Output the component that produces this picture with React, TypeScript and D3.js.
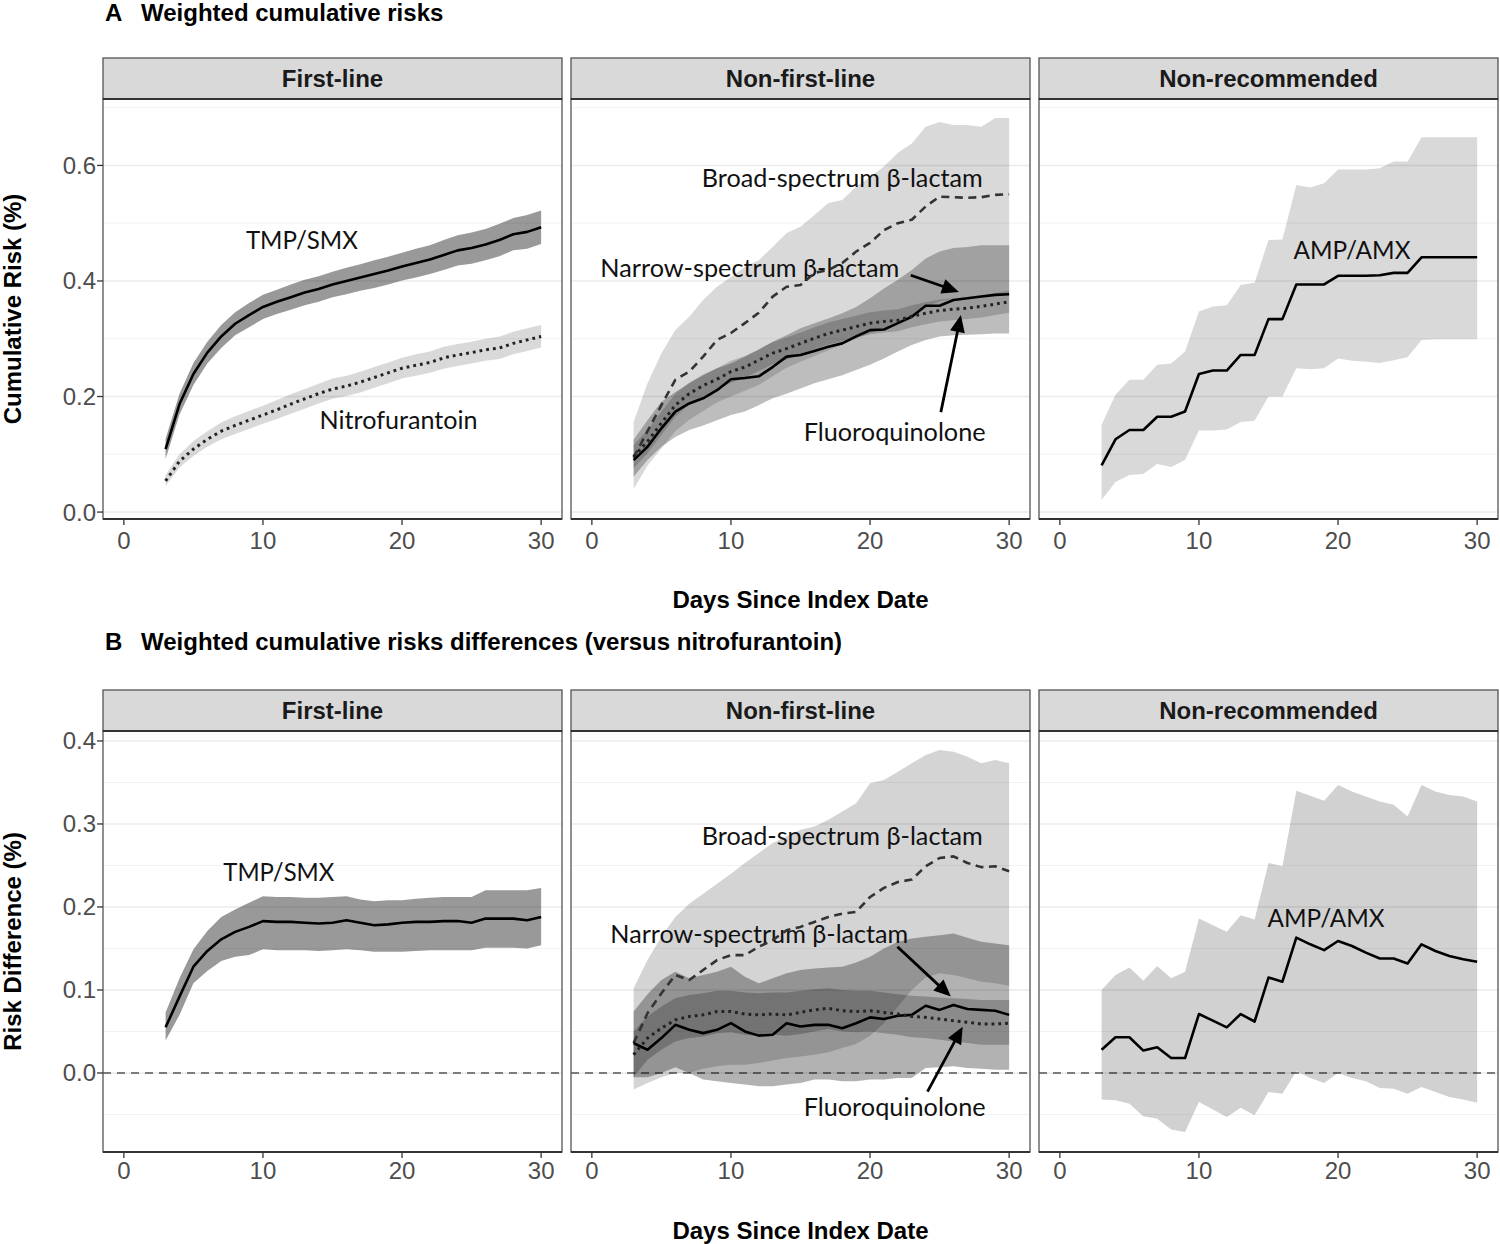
import React from 'react';
import * as d3 from 'd3';

// ---------- data ----------
const DAYS = [3,4,5,6,7,8,9,10,11,12,13,14,15,16,17,18,19,20,21,22,23,24,25,26,27,28,29,30];

const FACETS = ['First-line', 'Non-first-line', 'Non-recommended'];
const X_TICKS = [0, 10, 20, 30];
const A_Y_TICKS = [0, 0.2, 0.4, 0.6];
const A_Y_MINOR = [0.1, 0.3, 0.5, 0.7];
const B_Y_TICKS = [0, 0.1, 0.2, 0.3, 0.4];
const B_Y_MINOR = [-0.05, 0.05, 0.15, 0.25, 0.35];

// Panel A – cumulative risks
const A_TMP = [0.109,0.187,0.239,0.276,0.304,0.326,0.341,0.355,0.364,0.372,0.380,0.386,0.394,0.400,0.406,0.412,0.418,0.425,0.431,0.437,0.445,0.453,0.457,0.463,0.471,0.481,0.485,0.493];
const A_TMP_HI = [0.127,0.205,0.258,0.295,0.324,0.346,0.362,0.376,0.385,0.394,0.402,0.408,0.416,0.423,0.429,0.436,0.442,0.449,0.456,0.462,0.471,0.479,0.484,0.490,0.499,0.509,0.514,0.522];
const A_TMP_LO = [0.092,0.169,0.220,0.257,0.284,0.306,0.320,0.334,0.343,0.350,0.358,0.364,0.372,0.377,0.383,0.388,0.394,0.401,0.406,0.412,0.419,0.427,0.430,0.436,0.443,0.453,0.456,0.464];

const A_NITRO = [0.054,0.088,0.109,0.126,0.140,0.150,0.159,0.168,0.177,0.187,0.196,0.205,0.213,0.218,0.225,0.233,0.241,0.249,0.254,0.259,0.267,0.272,0.276,0.281,0.284,0.292,0.298,0.304];
const A_NITRO_HI = [0.064,0.100,0.123,0.140,0.155,0.166,0.175,0.184,0.194,0.204,0.213,0.222,0.231,0.236,0.243,0.251,0.259,0.267,0.273,0.278,0.286,0.291,0.295,0.300,0.304,0.312,0.318,0.324];
const A_NITRO_LO = [0.045,0.077,0.097,0.113,0.126,0.135,0.144,0.153,0.161,0.170,0.179,0.188,0.196,0.201,0.207,0.215,0.223,0.231,0.236,0.241,0.248,0.253,0.257,0.262,0.265,0.273,0.279,0.285];

const A_BROAD = [0.094,0.140,0.185,0.229,0.243,0.269,0.298,0.310,0.327,0.345,0.373,0.390,0.393,0.414,0.419,0.431,0.451,0.466,0.488,0.500,0.506,0.529,0.546,0.545,0.544,0.545,0.549,0.550];
const A_BROAD_HI = [0.156,0.223,0.275,0.315,0.338,0.367,0.390,0.407,0.424,0.436,0.459,0.483,0.494,0.514,0.535,0.540,0.563,0.580,0.598,0.622,0.638,0.667,0.675,0.670,0.670,0.667,0.682,0.682];
const A_BROAD_LO = [0.040,0.080,0.110,0.140,0.160,0.175,0.190,0.200,0.210,0.220,0.235,0.250,0.260,0.270,0.280,0.290,0.300,0.310,0.320,0.330,0.340,0.355,0.365,0.370,0.372,0.374,0.376,0.378];

const A_NARROW = [0.090,0.113,0.145,0.174,0.188,0.197,0.211,0.230,0.232,0.235,0.251,0.269,0.272,0.279,0.286,0.292,0.304,0.315,0.316,0.327,0.338,0.357,0.357,0.367,0.370,0.373,0.376,0.377];
const A_NARROW_HI = [0.125,0.159,0.191,0.208,0.223,0.237,0.249,0.257,0.269,0.281,0.295,0.306,0.318,0.327,0.335,0.344,0.355,0.370,0.387,0.402,0.419,0.439,0.451,0.457,0.459,0.462,0.462,0.462];
const A_NARROW_LO = [0.061,0.090,0.113,0.130,0.142,0.150,0.159,0.168,0.174,0.185,0.197,0.205,0.214,0.223,0.230,0.237,0.246,0.255,0.266,0.278,0.289,0.298,0.304,0.306,0.307,0.308,0.309,0.309];

const A_FLUORO = [0.096,0.122,0.154,0.185,0.205,0.219,0.230,0.243,0.251,0.263,0.275,0.283,0.292,0.301,0.309,0.315,0.321,0.327,0.330,0.332,0.339,0.344,0.349,0.351,0.353,0.356,0.360,0.364];
const A_FLUORO_HI = [0.116,0.142,0.174,0.205,0.224,0.238,0.249,0.262,0.270,0.282,0.294,0.302,0.311,0.320,0.328,0.334,0.340,0.346,0.349,0.351,0.358,0.363,0.368,0.370,0.372,0.375,0.379,0.383];
const A_FLUORO_LO = [0.076,0.102,0.134,0.165,0.186,0.200,0.211,0.224,0.232,0.244,0.256,0.264,0.273,0.282,0.290,0.296,0.302,0.308,0.311,0.313,0.320,0.325,0.330,0.332,0.334,0.337,0.341,0.345];

const A_AMP = [0.081,0.126,0.142,0.142,0.165,0.165,0.174,0.239,0.245,0.245,0.272,0.272,0.334,0.334,0.394,0.394,0.394,0.409,0.409,0.409,0.410,0.414,0.414,0.441,0.441,0.441,0.441,0.441];
const A_AMP_HI = [0.151,0.203,0.229,0.229,0.255,0.257,0.278,0.347,0.356,0.358,0.393,0.397,0.471,0.472,0.566,0.562,0.569,0.593,0.593,0.593,0.595,0.607,0.607,0.649,0.649,0.649,0.649,0.649];
const A_AMP_LO = [0.021,0.052,0.064,0.066,0.083,0.078,0.090,0.141,0.141,0.143,0.156,0.158,0.200,0.200,0.249,0.247,0.249,0.266,0.262,0.260,0.258,0.263,0.268,0.298,0.299,0.299,0.299,0.299];

// Panel B – risk differences vs nitrofurantoin
const B_TMP = [0.055,0.092,0.128,0.147,0.161,0.170,0.176,0.183,0.182,0.182,0.181,0.180,0.181,0.184,0.181,0.178,0.179,0.181,0.182,0.182,0.183,0.183,0.181,0.186,0.186,0.186,0.184,0.188];
const B_TMP_HI = [0.073,0.114,0.149,0.171,0.188,0.197,0.205,0.213,0.212,0.212,0.211,0.211,0.212,0.213,0.209,0.207,0.208,0.208,0.210,0.211,0.212,0.212,0.212,0.220,0.220,0.220,0.220,0.223];
const B_TMP_LO = [0.039,0.070,0.108,0.123,0.135,0.140,0.142,0.149,0.148,0.148,0.148,0.147,0.148,0.149,0.148,0.146,0.146,0.146,0.147,0.148,0.148,0.148,0.148,0.151,0.151,0.151,0.150,0.154];

const B_BROAD = [0.036,0.072,0.096,0.118,0.112,0.124,0.136,0.142,0.142,0.152,0.160,0.172,0.176,0.182,0.188,0.192,0.194,0.212,0.223,0.230,0.233,0.249,0.259,0.261,0.253,0.248,0.249,0.243];
const B_BROAD_HI = [0.102,0.136,0.164,0.188,0.204,0.216,0.228,0.240,0.253,0.265,0.277,0.285,0.293,0.297,0.305,0.315,0.325,0.349,0.353,0.363,0.373,0.383,0.389,0.387,0.381,0.373,0.377,0.373];
const B_BROAD_LO = [-0.020,-0.012,-0.005,0.000,0.000,0.005,0.008,0.010,0.010,0.012,0.015,0.018,0.020,0.022,0.025,0.030,0.035,0.045,0.060,0.080,0.100,0.115,0.120,0.118,0.114,0.110,0.108,0.105];

const B_NARROW = [0.036,0.028,0.042,0.058,0.052,0.048,0.052,0.060,0.050,0.045,0.046,0.060,0.056,0.058,0.058,0.054,0.060,0.067,0.065,0.069,0.070,0.081,0.076,0.082,0.077,0.076,0.075,0.070];
const B_NARROW_HI = [0.074,0.095,0.112,0.122,0.114,0.118,0.122,0.128,0.116,0.108,0.114,0.120,0.124,0.126,0.127,0.128,0.133,0.140,0.150,0.158,0.162,0.164,0.166,0.168,0.163,0.158,0.156,0.154];
const B_NARROW_LO = [-0.005,-0.005,0.000,0.007,0.000,-0.008,-0.010,-0.012,-0.014,-0.016,-0.016,-0.014,-0.012,-0.008,-0.008,-0.010,-0.010,-0.008,-0.008,-0.006,-0.006,0.006,0.007,0.008,0.006,0.005,0.004,0.004];

const B_FLUORO = [0.022,0.042,0.054,0.064,0.068,0.070,0.074,0.074,0.071,0.070,0.071,0.070,0.073,0.076,0.078,0.075,0.074,0.075,0.073,0.071,0.068,0.067,0.065,0.063,0.061,0.059,0.059,0.060];
const B_FLUORO_HI = [0.050,0.068,0.080,0.090,0.094,0.096,0.099,0.099,0.097,0.096,0.097,0.097,0.099,0.101,0.102,0.100,0.099,0.099,0.097,0.095,0.093,0.092,0.091,0.090,0.089,0.088,0.088,0.088];
const B_FLUORO_LO = [-0.005,0.016,0.028,0.038,0.042,0.044,0.048,0.049,0.046,0.045,0.046,0.045,0.047,0.050,0.053,0.050,0.049,0.050,0.048,0.046,0.043,0.042,0.040,0.038,0.036,0.034,0.034,0.034];

const B_AMP = [0.028,0.043,0.043,0.027,0.031,0.018,0.018,0.071,0.063,0.055,0.071,0.062,0.115,0.110,0.163,0.155,0.148,0.159,0.153,0.145,0.138,0.138,0.132,0.155,0.147,0.141,0.137,0.134];
const B_AMP_HI = [0.100,0.118,0.127,0.111,0.129,0.114,0.122,0.186,0.178,0.170,0.190,0.185,0.253,0.249,0.340,0.334,0.328,0.347,0.339,0.333,0.327,0.323,0.309,0.347,0.339,0.335,0.333,0.327];
const B_AMP_LO = [-0.032,-0.033,-0.037,-0.052,-0.055,-0.068,-0.071,-0.035,-0.044,-0.053,-0.042,-0.051,-0.023,-0.025,0.002,-0.006,-0.012,0.000,-0.006,-0.010,-0.018,-0.019,-0.025,-0.017,-0.023,-0.029,-0.032,-0.036];

// ---------- types / config ----------
type LineStyle = 'solid' | 'dashed' | 'dotted';
type Series = { y: number[]; lo: number[]; hi: number[]; style: LineStyle; alpha: number };
type Label = { text: string; day: number; value: number; width: number };
type Arrow = { d1: number; v1: number; d2: number; v2: number };
type PanelCfg = { series: Series[]; labels: Label[]; arrows: Arrow[] };
type RowCfg = {
  tag: string; title: string; titleBase: number;
  stripTop: number; top: number; bottom: number; domain: [number, number];
  ticks: number[]; minor: number[]; yTitle: string; zero: boolean;
  xLabelBase: number; xTitleBase: number; panels: PanelCfg[];
};

const ROWS: RowCfg[] = [
  {
    tag: 'A', title: 'Weighted cumulative risks', titleBase: 20.5,
    stripTop: 58, top: 99, bottom: 519, domain: [-0.012, 0.715],
    ticks: A_Y_TICKS, minor: A_Y_MINOR, yTitle: 'Cumulative Risk (%)', zero: false,
    xLabelBase: 549, xTitleBase: 607.5,
    panels: [
      {
        series: [
          { y: A_NITRO, lo: A_NITRO_LO, hi: A_NITRO_HI, style: 'dotted', alpha: 0.15 },
          { y: A_TMP, lo: A_TMP_LO, hi: A_TMP_HI, style: 'solid', alpha: 0.4 },
        ],
        labels: [
          { text: 'TMP/SMX', day: 12.8, value: 0.471, width: 112 },
          { text: 'Nitrofurantoin', day: 19.75, value: 0.159, width: 158 },
        ],
        arrows: [],
      },
      {
        series: [
          { y: A_BROAD, lo: A_BROAD_LO, hi: A_BROAD_HI, style: 'dashed', alpha: 0.15 },
          { y: A_NARROW, lo: A_NARROW_LO, hi: A_NARROW_HI, style: 'solid', alpha: 0.26 },
          { y: A_FLUORO, lo: A_FLUORO_LO, hi: A_FLUORO_HI, style: 'dotted', alpha: 0.18 },
        ],
        labels: [
          { text: 'Broad-spectrum β-lactam', day: 18.0, value: 0.578, width: 281 },
          { text: 'Narrow-spectrum β-lactam', day: 11.36, value: 0.4225, width: 299 },
          { text: 'Fluoroquinolone', day: 21.77, value: 0.1385, width: 182 },
        ],
        arrows: [
          { d1: 22.93, v1: 0.410, d2: 26.39, v2: 0.381 },
          { d1: 25.09, v1: 0.173, d2: 26.53, v2: 0.341 },
        ],
      },
      {
        series: [{ y: A_AMP, lo: A_AMP_LO, hi: A_AMP_HI, style: 'solid', alpha: 0.15 }],
        labels: [{ text: 'AMP/AMX', day: 21.0, value: 0.4537, width: 117 }],
        arrows: [],
      },
    ],
  },
  {
    tag: 'B', title: 'Weighted cumulative risks differences (versus nitrofurantoin)', titleBase: 649.5,
    stripTop: 690, top: 731, bottom: 1152, domain: [-0.0952, 0.412],
    ticks: B_Y_TICKS, minor: B_Y_MINOR, yTitle: 'Risk Difference (%)', zero: true,
    xLabelBase: 1179, xTitleBase: 1238.5,
    panels: [
      {
        series: [{ y: B_TMP, lo: B_TMP_LO, hi: B_TMP_HI, style: 'solid', alpha: 0.4 }],
        labels: [{ text: 'TMP/SMX', day: 11.14, value: 0.242, width: 111 }],
        arrows: [],
      },
      {
        series: [
          { y: B_BROAD, lo: B_BROAD_LO, hi: B_BROAD_HI, style: 'dashed', alpha: 0.17 },
          { y: B_NARROW, lo: B_NARROW_LO, hi: B_NARROW_HI, style: 'solid', alpha: 0.3 },
          { y: B_FLUORO, lo: B_FLUORO_LO, hi: B_FLUORO_HI, style: 'dotted', alpha: 0.22 },
        ],
        labels: [
          { text: 'Broad-spectrum β-lactam', day: 18.0, value: 0.2855, width: 281 },
          { text: 'Narrow-spectrum β-lactam', day: 12.04, value: 0.1675, width: 298 },
          { text: 'Fluoroquinolone', day: 21.77, value: -0.042, width: 182 },
        ],
        arrows: [
          { d1: 21.97, v1: 0.152, d2: 25.81, v2: 0.092 },
          { d1: 24.13, v1: -0.0225, d2: 26.66, v2: 0.0558 },
        ],
      },
      {
        series: [{ y: B_AMP, lo: B_AMP_LO, hi: B_AMP_HI, style: 'solid', alpha: 0.18 }],
        labels: [{ text: 'AMP/AMX', day: 19.14, value: 0.1867, width: 117 }],
        arrows: [],
      },
    ],
  },
];

const PANEL_LEFT = [103, 571, 1039];
const PANEL_W = 459;
const SANS = "'Liberation Sans', Arial, Helvetica, sans-serif";
const ANNO = "Lato, 'Open Sans', sans-serif";

function lineAttrs(style: LineStyle) {
  if (style === 'dashed') return { stroke: '#333', strokeWidth: 2.6, strokeDasharray: '8,5.5' };
  if (style === 'dotted') return { stroke: '#222', strokeWidth: 3, strokeDasharray: '2.8,4' };
  return { stroke: '#000', strokeWidth: 2.6, strokeDasharray: undefined };
}

function Panel({ row, idx }: { row: RowCfg; idx: number }) {
  const left = PANEL_LEFT[idx];
  const cfg = row.panels[idx];
  const x = d3.scaleLinear().domain([-1.5, 31.5]).range([left, left + PANEL_W]);
  const y = d3.scaleLinear().domain(row.domain).range([row.bottom, row.top]);
  const clipId = `clip-${row.tag}-${idx}`;

  const areaGen = (s: Series) =>
    d3.area<number>()
      .x((_, i) => x(DAYS[i]))
      .y0((_, i) => y(s.lo[i]))
      .y1((_, i) => y(s.hi[i]))(s.y) || '';
  const lineGen = (s: Series) =>
    d3.line<number>().x((_, i) => x(DAYS[i])).y((v) => y(v))(s.y) || '';

  return (
    <g>
      <defs>
        <clipPath id={clipId}>
          <rect x={left} y={row.top} width={PANEL_W} height={row.bottom - row.top} />
        </clipPath>
      </defs>
      {/* gridlines */}
      {row.minor.map((v) => (
        <line key={'mi' + v} x1={left} x2={left + PANEL_W} y1={y(v)} y2={y(v)} stroke="#f2f2f2" strokeWidth={1} />
      ))}
      {row.ticks.map((v) => (
        <line key={'ma' + v} x1={left} x2={left + PANEL_W} y1={y(v)} y2={y(v)} stroke="#ebebeb" strokeWidth={1.6} />
      ))}
      {row.zero && (
        <line x1={left} x2={left + PANEL_W} y1={y(0)} y2={y(0)} stroke="#555" strokeWidth={1.6} strokeDasharray="8,6" />
      )}
      <g clipPath={`url(#${clipId})`}>
        {cfg.series.map((s, i) => (
          <path key={'b' + i} d={areaGen(s)} fill="#000" fillOpacity={s.alpha} stroke="none" />
        ))}
      </g>
      {cfg.labels.map((l, i) => (
        <text key={'l' + i} x={x(l.day)} y={y(l.value) + 8.6} textAnchor="middle" fontFamily={ANNO}
          fontSize={25} fill="#111" textLength={l.width} lengthAdjust="spacingAndGlyphs">{l.text}</text>
      ))}
      <g clipPath={`url(#${clipId})`}>
        {cfg.series.map((s, i) => {
          const a = lineAttrs(s.style);
          return (
            <path key={'ln' + i} d={lineGen(s)} fill="none" stroke={a.stroke} strokeWidth={a.strokeWidth}
              strokeDasharray={a.strokeDasharray} strokeLinejoin="round" />
          );
        })}
      </g>
      {cfg.arrows.map((ar, i) => {
        const x1 = x(ar.d1), y1 = y(ar.v1), x2 = x(ar.d2), y2 = y(ar.v2);
        const len = Math.hypot(x2 - x1, y2 - y1);
        const ux = (x2 - x1) / len, uy = (y2 - y1) / len;
        const hl = 17, hw = 7.5;
        const bx = x2 - ux * hl, by = y2 - uy * hl;
        const pts = `${x2},${y2} ${bx - uy * hw},${by + ux * hw} ${bx + uy * hw},${by - ux * hw}`;
        return (
          <g key={'a' + i}>
            <line x1={x1} y1={y1} x2={bx + ux * 2} y2={by + uy * 2} stroke="#000" strokeWidth={2.8} />
            <polygon points={pts} fill="#000" />
          </g>
        );
      })}
      {/* panel border */}
      <rect x={left} y={row.top} width={PANEL_W} height={row.bottom - row.top} fill="none" stroke="#555" strokeWidth={1.3} />
      <line x1={left} x2={left + PANEL_W} y1={row.bottom} y2={row.bottom} stroke="#333" strokeWidth={1.8} />
      {/* strip */}
      <rect x={left} y={row.stripTop} width={PANEL_W} height={row.top - row.stripTop} fill="#d9d9d9" stroke="#555" strokeWidth={1.3} />
      <line x1={left} x2={left + PANEL_W} y1={row.top} y2={row.top} stroke="#333" strokeWidth={1.8} />
      <text x={left + PANEL_W / 2} y={(row.stripTop + row.top) / 2 + 8.6} textAnchor="middle" fontFamily={SANS}
        fontWeight="bold" fontSize={24} fill="#1a1a1a">{FACETS[idx]}</text>
      {/* x axis */}
      {X_TICKS.map((t) => (
        <g key={'xt' + t}>
          <line x1={x(t)} x2={x(t)} y1={row.bottom} y2={row.bottom + 6} stroke="#333" strokeWidth={1.3} />
          <text x={x(t)} y={row.xLabelBase} textAnchor="middle" fontFamily={SANS} fontSize={24} fill="#4d4d4d">{t}</text>
        </g>
      ))}
      {/* y axis on first panel */}
      {idx === 0 && row.ticks.map((t) => (
        <g key={'yt' + t}>
          <line x1={left - 6} x2={left} y1={y(t)} y2={y(t)} stroke="#333" strokeWidth={1.3} />
          <text x={left - 7} y={y(t) + 8.5} textAnchor="end" fontFamily={SANS} fontSize={24} fill="#4d4d4d">{d3.format('.1f')(t)}</text>
        </g>
      ))}
    </g>
  );
}

function Row({ row }: { row: RowCfg }) {
  const cy = (row.top + row.bottom) / 2;
  const cx = (PANEL_LEFT[0] + PANEL_LEFT[2] + PANEL_W) / 2;
  return (
    <g>
      <text x={105} y={row.titleBase} fontFamily={SANS} fontWeight="bold" fontSize={24} fill="#000">{row.tag}</text>
      <text x={141} y={row.titleBase} fontFamily={SANS} fontWeight="bold" fontSize={24} fill="#000">{row.title}</text>
      {[0, 1, 2].map((i) => <Panel key={i} row={row} idx={i} />)}
      <text x={cx} y={row.xTitleBase} textAnchor="middle" fontFamily={SANS} fontWeight="bold" fontSize={24} fill="#000">Days Since Index Date</text>
      <text transform={`translate(21,${cy}) rotate(-90)`} textAnchor="middle" fontFamily={SANS} fontWeight="bold" fontSize={24} fill="#000">{row.yTitle}</text>
    </g>
  );
}

export default function App() {
  return (
    <svg width={1500} height={1244} style={{ position: 'absolute', left: 0, top: 0, display: 'block' }}>
      <rect x={0} y={0} width={1500} height={1244} fill="#fff" />
      {ROWS.map((r) => <Row key={r.tag} row={r} />)}
    </svg>
  );
}
